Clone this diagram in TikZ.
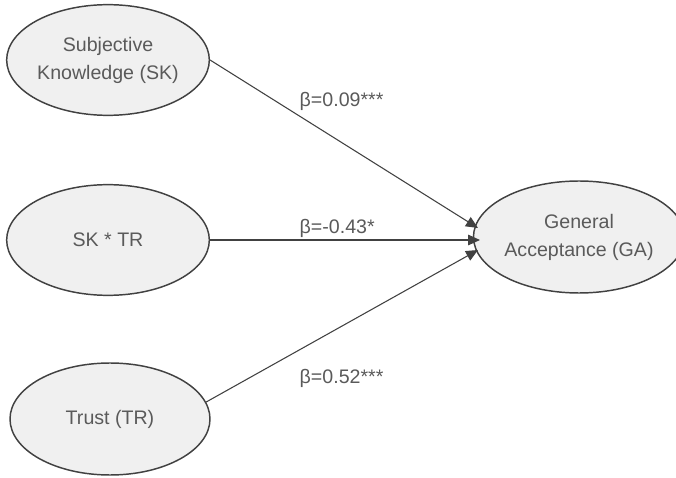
\documentclass[tikz,border=0pt]{standalone}
\usepackage{fontspec}
\setmainfont{Liberation Sans}
\usetikzlibrary{arrows.meta}
\definecolor{txtgray}{RGB}{90,90,90}
\definecolor{linegray}{RGB}{65,65,65}
\definecolor{fillgray}{RGB}{240,240,240}
\tikzset{
  construct/.style={ellipse, draw=linegray, fill=fillgray, line width=1.1pt, inner sep=0pt,
    text=txtgray, align=center, font=\fontsize{14.7}{21}\selectfont},
  path/.style={draw=linegray, line width=0.8pt, -{Triangle[length=9pt,width=8pt]}},
  coef/.style={text=txtgray, font=\fontsize{14.7}{18}\selectfont}
}
\usetikzlibrary{shapes.geometric}
\begin{document}
\begin{tikzpicture}[x=0.75pt,y=0.75pt,yscale=-1,xscale=1]
\useasboundingbox (0,0) rectangle (676,478);

%Ellipses
\node[construct, minimum width=152pt, minimum height=83pt] (sk) at (108,60) {Subjective\\Knowledge (SK)};
\node[construct, minimum width=152pt, minimum height=83pt] (sktr) at (108,240) {SK * TR};
\node[construct, minimum width=150pt, minimum height=84pt] (tr) at (110,419) {Trust (TR)};
\node[construct, minimum width=141pt, minimum height=84pt] (ga) at (579,237) {General\\Acceptance (GA)};

%Arrow ends
\coordinate (gain1) at (478,228);
\coordinate (gain2) at (480,240);
\coordinate (gain3) at (478,250);

%Paths
\draw[path] (sk.east) -- (gain1);
\draw[path] (sktr.east) -- (gain2);
\draw[path] (tr.10) -- (gain3);

%Coefficients
\node[coef, anchor=west] (b1) at (295,101) {β=0.09***};
\node[coef, anchor=west] (b2) at (295,228) {β=-0.43*};
\node[coef, anchor=west] (b3) at (295,378) {β=0.52***};

\end{tikzpicture}
\end{document}
